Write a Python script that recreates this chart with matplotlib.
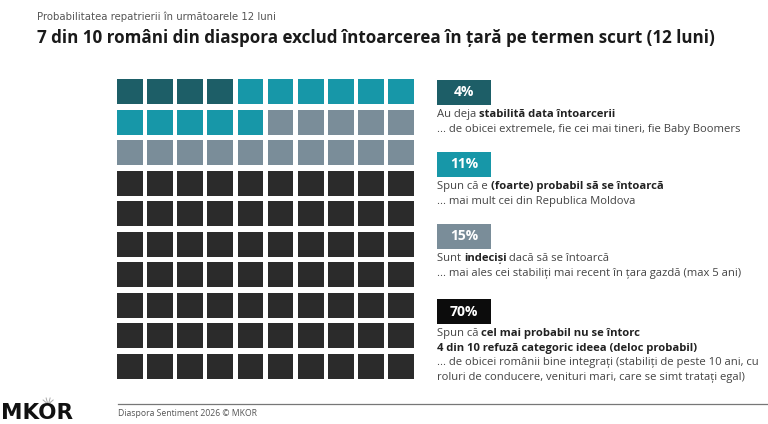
import numpy as np
import matplotlib
matplotlib.use("Agg")
import matplotlib.pyplot as plt
from matplotlib.patches import Rectangle

W, H = 768, 424

# data
categories = ["stabilita", "probabil", "indecisi", "nu"]
values = [4, 11, 15, 70]
colors = ["#1d5e67", "#1797a8", "#7a8d99", "#2b2b2b"]
badge_colors = ["#1d5e67", "#1797a8", "#7a8d99", "#0c0c0c"]
badge_labels = ["4%", "11%", "15%", "70%"]

subtitle = "Probabilitatea repatrierii în următoarele 12 luni"
title = "7 din 10 români din diaspora exclud întoarcerea în țară pe termen scurt (12 luni)"
footer = "Diaspora Sentiment 2026 © MKOR"

# each description: list of lines, each line a list of (text, bold)
descriptions = [
    [[("Au deja ", False), ("stabilită data întoarcerii", True)],
     [("... de obicei extremele, fie cei mai tineri, fie Baby Boomers", False)]],
    [[("Spun că e ", False), ("(foarte) probabil să se întoarcă", True)],
     [("... mai mult cei din Republica Moldova", False)]],
    [[("Sunt ", False), ("indeciși", True), (" dacă să se întoarcă", False)],
     [("... mai ales cei stabiliți mai recent în țara gazdă (max 5 ani)", False)]],
    [[("Spun că ", False), ("cel mai probabil nu se întorc", True)],
     [("4 din 10 refuză categoric ideea (deloc probabil)", True)],
     [("... de obicei românii bine integrați (stabiliți de peste 10 ani, cu", False)],
     [("roluri de conducere, venituri mari, care se simt tratați egal)", False)]],
]

plt.rcParams['font.family'] = ['Open Sans', 'DejaVu Sans']
fig = plt.figure(figsize=(W / 100, H / 100), dpi=100)
fig.patch.set_facecolor("white")
renderer = fig.canvas.get_renderer()

# waffle grid
ax = fig.add_axes([117 / W, 1 - 379 / H, 297 / W, 300 / H])
ax.set_xlim(0, 9.85)
ax.set_ylim(9.83, 0)
ax.axis("off")
cells = np.repeat(np.arange(len(values)), values)
for k, c in enumerate(cells):
    r, col = divmod(k, 10)
    ax.add_patch(Rectangle((col, r), 0.85, 0.83, facecolor=colors[c], edgecolor="none"))

def py(y):
    return H - y

# titles
fig.text(37 / W, py(17) / H, subtitle, fontsize=7.3, color="#555555",
         family=['Liberation Sans Narrow', 'DejaVu Sans'], va="center")
fig.text(37 / W, py(38) / H, title, fontsize=12.25, fontweight="bold",
         color="#1a1a1a", va="center")

# badges and descriptions
badge_tops = [80, 152, 224, 299]
line_gap = 14.7
for i in range(len(values)):
    top = badge_tops[i]
    fig.patches.append(Rectangle((437, py(top + 25)), 54, 25, transform=None,
                                 facecolor=badge_colors[i], edgecolor="none", figure=fig))
    fig.text(464 / W, py(top + 12.5) / H, badge_labels[i], fontsize=10, fontweight="bold",
             color="white", ha="center", va="center")
    for j, line in enumerate(descriptions[i]):
        ybase = py(top + 37 + j * line_gap)
        x = 437
        for txt, bold in line:
            t = fig.text(x / W, ybase / H, txt, fontsize=8.1,
                         fontweight="bold" if bold else "normal",
                         color="#222222" if bold else "#444444", va="baseline", ha="left")
            x = t.get_window_extent(renderer).x1

# footer
fig.add_artist(plt.Line2D([118 / W, 1], [py(404) / H, py(404) / H], color="#777777", lw=0.9))
fig.text(118 / W, py(413) / H, footer, fontsize=6.2, color="#555555", va="center")
logo = fig.text(1 / W, py(419) / H, "MKOR", fontsize=15.5, fontweight="bold", color="#111111",
                va="baseline", family=['DejaVu Sans'])
mk = fig.text(1 / W, py(419) / H, "MK", fontsize=15.5, fontweight="bold", alpha=0,
              va="baseline", family=['DejaVu Sans'])
bb_mk = mk.get_window_extent(renderer)
cx = bb_mk.x1 + 9
ctop = py(403)
for dx, dy in [(-5, 3), (-2, 5), (2, 5), (5, 3)]:
    fig.add_artist(plt.Line2D([(cx + dx * 0.3) / W, (cx + dx) / W],
                              [ctop / H, (ctop + dy) / H], color="#aaaaaa", lw=0.7))

fig.savefig("out.png", dpi=100)
